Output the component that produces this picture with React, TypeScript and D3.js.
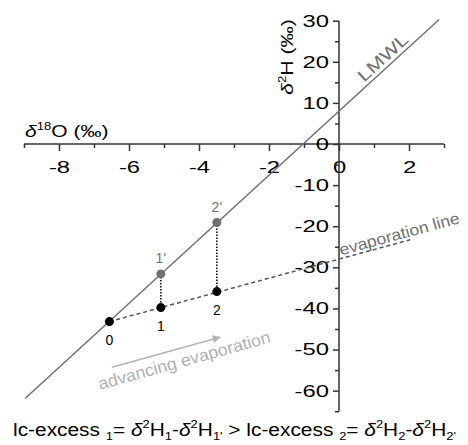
import React, { useEffect, useRef } from "react";
import * as d3 from "d3";

// axis ticks
const xMajor = [-8, -6, -4, -2, 0, 2];
const xMinor = [-9, -7, -5, -3, -1, 1, 3];
const yMajor = [30, 20, 10, 0, -10, -20, -30, -40, -50, -60];
const yMinor = [25, 15, 5, -5, -15, -25, -35, -45, -55, -65];

// LMWL end points (d18O, d2H)
const lmwlO = [-8.97, 2.86];
const lmwlH = [-61.9, 30.3];

// samples on the evaporation line
const sampleNames = ["0", "1", "2"];
const sampleO = [-6.56, -5.09, -3.49];
const sampleH = [-43.2, -39.8, -35.9];

// matching points on the LMWL
const lmwlPtNames = ["1'", "2'"];
const lmwlPtO = [-5.09, -3.49];
const lmwlPtH = [-31.6, -19.1];

// far end of the evaporation line
const evapEndO = 2.03;
const evapEndH = -23.3;

// "advancing evaporation" arrow
const arrowO = [-6.49, -3.4];
const arrowH = [-54.3, -47.0];

const FONT = "'Liberation Sans', Arial, sans-serif";
const W = 468;
const H = 445;
const TICK_STRETCH = 1.4;

type Seg = { t: string; s?: "sup" | "sub"; i?: boolean };

// formula under the chart
const formula: Seg[] = [
  { t: "lc-excess " },
  { t: "1", s: "sub" },
  { t: "= " },
  { t: "δ", i: true },
  { t: "2", s: "sup" },
  { t: "H" },
  { t: "1", s: "sub" },
  { t: "-" },
  { t: "δ", i: true },
  { t: "2", s: "sup" },
  { t: "H" },
  { t: "1'", s: "sub" },
  { t: " > lc-excess " },
  { t: "2", s: "sub" },
  { t: "= " },
  { t: "δ", i: true },
  { t: "2", s: "sup" },
  { t: "H" },
  { t: "2", s: "sub" },
  { t: "-" },
  { t: "δ", i: true },
  { t: "2", s: "sup" },
  { t: "H" },
  { t: "2'", s: "sub" },
];

function RichText({ segs, size, ...rest }: any) {
  let cur = 0;
  const small = size * 0.62;
  return (
    <text fontFamily={FONT} fontSize={size} {...rest}>
      {segs.map((g: Seg, k: number) => {
        const target = g.s === "sup" ? -size * 0.42 : g.s === "sub" ? size * 0.22 : 0;
        const dy = target - cur;
        cur = target;
        return (
          <tspan
            key={k}
            dy={dy}
            fontSize={g.s ? small : size}
            fontStyle={g.i ? "italic" : "normal"}
          >
            {g.t}
          </tspan>
        );
      })}
    </text>
  );
}

export default function App() {
  const xAxisRef = useRef<SVGGElement>(null);
  const yAxisRef = useRef<SVGGElement>(null);

  const x = d3.scaleLinear().domain([-9, 3]).range([24, 444]);
  const y = d3.scaleLinear().domain([-65, 30]).range([411.2, 20.7]);

  useEffect(() => {
    document.body.style.margin = "0";

    const gx = d3.select(xAxisRef.current);
    gx.selectAll("*").remove();
    gx.append("g")
      .call(d3.axisBottom(x).tickValues(xMinor).tickSize(4).tickSizeOuter(0).tickFormat(() => ""))
      .call((g) => g.select(".domain").remove());
    gx.append("g")
      .call(d3.axisBottom(x).tickValues(xMajor).tickSize(7).tickSizeOuter(0).tickFormat((d) => String(d)))
      .call((g) => g.select(".domain").remove())
      .call((g) =>
        g.selectAll("text")
          .attr("y", 29)
          .attr("dy", 0)
          .attr("font-size", 17)
          .attr("font-family", FONT)
          .attr("fill", "#000")
          .attr("transform", `scale(${TICK_STRETCH},1)`)
      );
    gx.append("line").attr("x1", x(-9)).attr("x2", x(3)).attr("stroke", "#333").attr("stroke-width", 1.5);
    gx.selectAll(".tick line").attr("stroke", "#333").attr("stroke-width", 1.5);

    const gy = d3.select(yAxisRef.current);
    gy.selectAll("*").remove();
    gy.append("g")
      .call(d3.axisLeft(y).tickValues(yMinor).tickSize(4).tickSizeOuter(0).tickFormat(() => ""))
      .call((g) => g.select(".domain").remove());
    gy.append("g")
      .call(d3.axisLeft(y).tickValues(yMajor).tickSize(6).tickSizeOuter(0).tickFormat((d) => String(d)))
      .call((g) => g.select(".domain").remove())
      .call((g) =>
        g.selectAll("text")
          .attr("x", -10 / TICK_STRETCH)
          .attr("font-size", 17)
          .attr("font-family", FONT)
          .attr("fill", "#000")
          .attr("transform", `scale(${TICK_STRETCH},1)`)
      );
    gy.append("line").attr("y1", y(-65)).attr("y2", y(30)).attr("stroke", "#333").attr("stroke-width", 1.5);
    gy.selectAll(".tick line").attr("stroke", "#333").attr("stroke-width", 1.5);
  }, []);

  // LMWL
  const lx1 = x(lmwlO[0]), ly1 = y(lmwlH[0]);
  const lx2 = x(lmwlO[1]), ly2 = y(lmwlH[1]);
  const lmwlAngle = (Math.atan2(ly2 - ly1, lx2 - lx1) * 180) / Math.PI;
  const lmwlLabelX = x(0.79);
  const lmwlLabelY = ly1 + ((lmwlLabelX - lx1) * (ly2 - ly1)) / (lx2 - lx1);

  // evaporation line
  const ex1 = x(sampleO[0]), ey1 = y(sampleH[0]);
  const ex2 = x(evapEndO), ey2 = y(evapEndH);
  const evapAngle = (Math.atan2(ey2 - ey1, ex2 - ex1) * 180) / Math.PI;
  const evapLabelX = x(0.08);
  const evapLabelY = ey1 + ((evapLabelX - ex1) * (ey2 - ey1)) / (ex2 - ex1);

  // arrow
  const ax1 = x(arrowO[0]), ay1 = y(arrowH[0]);
  const ax2 = x(arrowO[1]), ay2 = y(arrowH[1]);
  const arrowAngle = (Math.atan2(ay2 - ay1, ax2 - ax1) * 180) / Math.PI;

  return (
    <svg width={W} height={H} style={{ display: "block" }}>
      <defs>
        <marker id="arr" viewBox="0 0 10 10" refX="9" refY="5" markerWidth="11" markerHeight="8"
          markerUnits="userSpaceOnUse" orient="auto">
          <path d="M0,0 L10,5 L0,10 z" fill="#b4b4b4" />
        </marker>
      </defs>
      <rect width={W} height={H} fill="#fff" />

      <g ref={xAxisRef} transform={`translate(0,${y(0)})`} />
      <g ref={yAxisRef} transform={`translate(${x(0)},0)`} />

      {/* axis titles */}
      <RichText
        segs={[{ t: "δ", i: true }, { t: "18", s: "sup" }, { t: "O (‰)" }]}
        size={17}
        transform="translate(25,137) scale(1.24,1)"
        fill="#000"
      />
      <RichText
        segs={[{ t: "δ", i: true }, { t: "2", s: "sup" }, { t: "H (‰)" }]}
        size={17}
        transform="translate(293,57) rotate(-90) scale(1.25,1)"
        textAnchor="middle"
        fill="#000"
      />

      {/* LMWL */}
      <line x1={lx1} y1={ly1} x2={lx2} y2={ly2} stroke="#707070" strokeWidth={1.5} />
      <text
        transform={`translate(${lmwlLabelX},${lmwlLabelY}) rotate(${lmwlAngle})`}
        x={0}
        y={-4}
        fontFamily={FONT}
        fontSize={17}
        fill="#707070"
        textLength={62}
        lengthAdjust="spacingAndGlyphs"
      >
        LMWL
      </text>

      {/* evaporation line */}
      <line x1={ex1} y1={ey1} x2={ex2} y2={ey2} stroke="#555" strokeWidth={1.5} strokeDasharray="4,3" />
      <text
        transform={`translate(${evapLabelX},${evapLabelY}) rotate(${evapAngle})`}
        x={0}
        y={-3}
        fontFamily={FONT}
        fontSize={16}
        fill="#707070"
        textLength={124}
        lengthAdjust="spacingAndGlyphs"
      >
        evaporation line
      </text>

      {/* vertical dotted links */}
      {lmwlPtO.map((o, k) => (
        <line key={k} x1={x(o)} x2={x(o)} y1={y(lmwlPtH[k])} y2={y(sampleH[k + 1])}
          stroke="#000" strokeWidth={1.5} strokeDasharray="1.5,1.5" />
      ))}

      {/* points */}
      {sampleO.map((o, k) => (
        <g key={k}>
          <circle cx={x(o)} cy={y(sampleH[k])} r={4.5} fill="#000" />
          <text x={x(o)} y={y(sampleH[k]) + 23} textAnchor="middle" fontFamily={FONT} fontSize={14} fill="#000">
            {sampleNames[k]}
          </text>
        </g>
      ))}
      {lmwlPtO.map((o, k) => (
        <g key={k}>
          <circle cx={x(o)} cy={y(lmwlPtH[k])} r={4.5} fill="#707070" />
          <text x={x(o)} y={y(lmwlPtH[k]) - 11} textAnchor="middle" fontFamily={FONT} fontSize={14} fill="#707070">
            {lmwlPtNames[k]}
          </text>
        </g>
      ))}

      {/* advancing evaporation */}
      <line x1={ax1} y1={ay1} x2={ax2} y2={ay2} stroke="#b4b4b4" strokeWidth={1.5} markerEnd="url(#arr)" />
      <text
        transform={`translate(${x(-6.83)},${y(-59.8)}) rotate(${arrowAngle})`}
        fontFamily={FONT}
        fontSize={17}
        fill="#b0b0b0"
        textLength={178}
        lengthAdjust="spacingAndGlyphs"
      >
        advancing evaporation
      </text>

      {/* formula */}
      <RichText segs={formula} size={18} transform="translate(13,436) scale(1.16,1)" fill="#000" />
    </svg>
  );
}
